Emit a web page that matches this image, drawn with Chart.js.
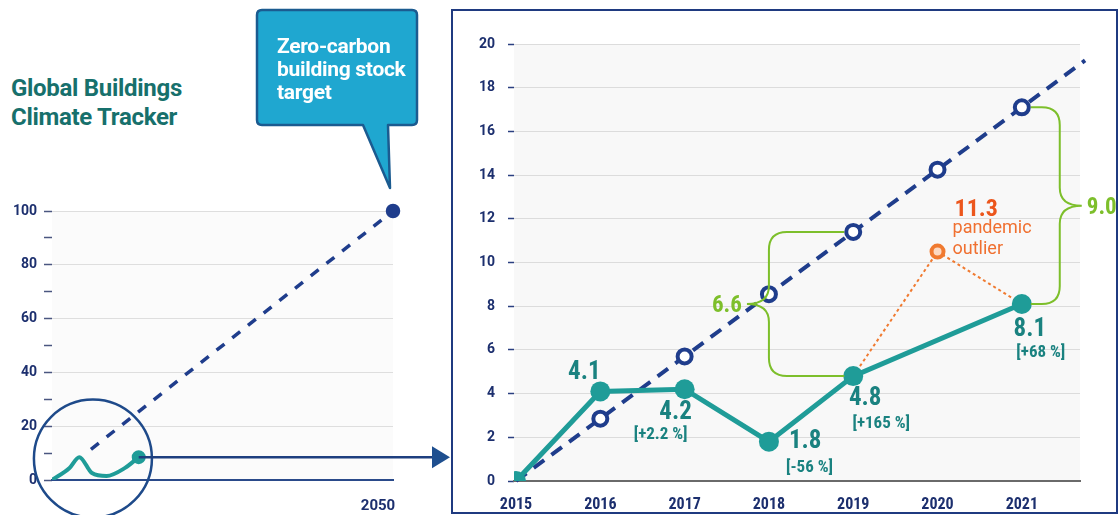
<!DOCTYPE html>
<html>
<head>
<meta charset="utf-8">
<script src="https://cdn.jsdelivr.net/npm/chart.js@4.4.0/dist/chart.umd.min.js"></script>
<style>
  html, body { margin: 0; padding: 0; background: #fff; }
  body { width: 1119px; height: 515px; position: relative; overflow: hidden; font-family: Roboto, sans-serif; }
  #left { position: absolute; left: 0; top: 0; }
  #frame { position: absolute; left: 451px; top: 9px; width: 663px; height: 501px; border: 2px solid #1f3a80; background: #fff; }
  #right { display: block; }
  #title { position: absolute; left: 11px; top: 74px; font: bold 24px/29px Roboto, sans-serif; color: #17706c; letter-spacing: -0.3px; }
  #bubble { position: absolute; left: 0; top: 0; }
  #bubbleText { position: absolute; left: 277px; top: 35px; font: bold 21px/23px Roboto, sans-serif; color: #fff; letter-spacing: -0.3px; }
</style>
</head>
<body>
<div id="title">Global Buildings<br>Climate Tracker</div>
<canvas id="left" width="450" height="515"></canvas>
<svg id="bubble" width="450" height="200">
  <path d="M262,10 H412 Q417,10 417,15 V120 Q417,125 412,125 H388 L390,188 L363,125 H262 Q257,125 257,120 V15 Q257,10 262,10 Z"
        fill="#1fa7d0" stroke="#1b5b90" stroke-width="2.5" stroke-linejoin="round"/>
</svg>
<div id="bubbleText">Zero-carbon<br>building stock<br>target</div>
<div id="frame"><canvas id="right" width="663" height="501"></canvas></div>

<script>
// zoomed chart (right)
const years = [2015, 2016, 2017, 2018, 2019, 2020, 2021];
const actual = [0, 4.1, 4.2, 1.8, 4.8, null, 8.1];
const target = [0, 2.85, 5.7, 8.55, 11.4, 14.25, 17.1];
const targetEnd = { x: 2021.75, y: 19.25 };
const outlierYears = [2019, 2020, 2021];
const outlier = [4.8, 10.5, 8.1];
const valueLabels = ['', '4.1', '4.2', '1.8', '4.8', '', '8.1'];
const changeLabels = ['', '', '[+2.2 %]', '[-56 %]', '[+165 %]', '', '[+68 %]'];
const gapYears = [2019, 2021];
const gapLabels = ['6.6', '9.0'];

// overview chart (left)
const overviewYears = [2015, 2016.8, 2017.8, 2019.1, 2020.6, 2022.5, 2023.9];
const overviewActual = [0, 4.5, 8.5, 2.6, 1.5, 4.5, 8.5];
const overviewTargetYears = [2019, 2050];
const overviewTarget = [11.4, 100];

const NARROW = "'Liberation Sans Narrow', 'Roboto Condensed', 'DejaVu Sans Condensed', sans-serif";
const NAVY = '#1c2f6e';
const TEAL = '#1f9c98';
const TEAL_TEXT = '#1a8280';
const DASH = '#1f3d8c';
const GREEN = '#7dbf2b';
const ORANGE = '#f07a30';

function txt(ctx, s, x, y, font, color, align) {
  ctx.font = font;
  ctx.fillStyle = color;
  ctx.textAlign = align || 'center';
  ctx.textBaseline = 'alphabetic';
  ctx.fillText(s, x, y);
}

function brace(ctx, xa1, y1, xa2, y2, xb, xt) {
  const ym = (y1 + y2) / 2, r = 18, s = Math.sign(xa1 - xb);
  ctx.beginPath();
  ctx.moveTo(xa1, y1);
  ctx.lineTo(xb + s * r, y1);
  ctx.quadraticCurveTo(xb, y1, xb, y1 + r);
  ctx.lineTo(xb, ym - r);
  ctx.quadraticCurveTo(xb, ym, xt, ym);
  ctx.quadraticCurveTo(xb, ym, xb, ym + r);
  ctx.lineTo(xb, y2 - r);
  ctx.quadraticCurveTo(xb, y2, xb + s * r, y2);
  ctx.lineTo(xa2, y2);
  ctx.stroke();
}

const areaBg = {
  id: 'areaBg',
  beforeDraw(chart, args, opts) {
    const { ctx, chartArea: a } = chart;
    ctx.save();
    ctx.fillStyle = opts.color;
    ctx.fillRect(a.left, a.top, a.right - a.left, a.bottom - a.top);
    ctx.restore();
  }
};

// ---------- left overview ----------
const leftDeco = {
  id: 'leftDeco',
  afterDatasetsDraw(chart) {
    const { ctx, scales: { x, y } } = chart;
    const pts = chart.getDatasetMeta(0).data;
    const end = pts[pts.length - 1];
    ctx.save();
    ctx.strokeStyle = '#1e4a8a';
    ctx.lineWidth = 2.5;
    ctx.beginPath();
    ctx.arc(x.getPixelForValue(2019.2), y.getPixelForValue(8), 59, 0, Math.PI * 2);
    ctx.stroke();
    // arrow to the zoomed chart
    ctx.strokeStyle = '#1e3f7f';
    ctx.beginPath();
    ctx.moveTo(end.x, end.y);
    ctx.lineTo(434, end.y);
    ctx.stroke();
    ctx.fillStyle = '#1e4f8f';
    ctx.beginPath();
    ctx.moveTo(432, end.y - 11);
    ctx.lineTo(450, end.y);
    ctx.lineTo(432, end.y + 11);
    ctx.closePath();
    ctx.fill();
    ctx.restore();
  }
};

new Chart(document.getElementById('left'), {
  type: 'line',
  data: {
    datasets: [{
      data: overviewYears.map((v, i) => ({ x: v, y: overviewActual[i] })),
      borderColor: TEAL,
      backgroundColor: TEAL,
      borderWidth: 4,
      cubicInterpolationMode: 'monotone',
      pointRadius: overviewYears.map((v, i) => i === overviewYears.length - 1 ? 5 : 0),
      order: 0
    }, {
      data: overviewTargetYears.map((v, i) => ({ x: v, y: overviewTarget[i] })),
      borderColor: DASH,
      backgroundColor: DASH,
      borderWidth: 3.5,
      borderDash: [10, 10],
      pointRadius: [0, 5.5],
      clip: false,
      order: 1
    }]
  },
  options: {
    responsive: false,
    animation: false,
    events: [],
    layout: { padding: { left: 0, right: 57, top: 211, bottom: 0 } },
    plugins: { legend: { display: false }, tooltip: { enabled: false }, areaBg: { color: '#fbfbfb' } },
    scales: {
      x: {
        type: 'linear', min: 2015, max: 2050,
        afterBuildTicks: s => { s.ticks = [{ value: 2050 }]; },
        afterFit: s => { s.height = 35; },
        grid: { display: false },
        border: { color: '#2a4a8a', width: 2 },
        ticks: { callback: v => String(v), color: NAVY, font: { family: 'Roboto', size: 15, weight: 'bold' }, padding: 9, labelOffset: -15 }
      },
      y: {
        min: 0, max: 100,
        afterFit: s => { s.width = 52; },
        border: { display: false },
        grid: {
          color: c => (c.tick && c.tick.value % 20 === 0 && c.tick.value > 0) ? '#dedede' : 'transparent',
          tickColor: '#4a5680', tickLength: 8, tickWidth: 1.5
        },
        ticks: { stepSize: 10, callback: v => v % 20 === 0 ? String(v) : '', color: NAVY, font: { family: 'Roboto', size: 14, weight: 'bold' }, padding: 7 }
      }
    }
  },
  plugins: [areaBg, leftDeco]
});

// ---------- right zoomed chart ----------
const rightDeco = {
  id: 'rightDeco',
  afterDatasetsDraw(chart) {
    const { ctx, scales: { x, y } } = chart;
    const act = chart.getDatasetMeta(0).data;
    const tgt = chart.getDatasetMeta(1).data;
    const out = chart.getDatasetMeta(2).data;
    ctx.save();

    // gap braces
    ctx.strokeStyle = GREEN;
    ctx.lineWidth = 2;
    const i19 = years.indexOf(gapYears[0]), i21 = years.indexOf(gapYears[1]);
    const xb1 = x.getPixelForValue(2018), xt1 = xb1 - 22;
    brace(ctx, tgt[i19].x - 9, tgt[i19].y, act[i19].x - 9, act[i19].y, xb1, xt1);
    const xb2 = x.getPixelForValue(2021.45), xt2 = xb2 + 22;
    brace(ctx, tgt[i21].x + 9, tgt[i21].y, act[i21].x + 9, act[i21].y, xb2, xt2);
    const ym1 = (tgt[i19].y + act[i19].y) / 2, ym2 = (tgt[i21].y + act[i21].y) / 2;
    txt(ctx, gapLabels[0], xt1 - 5, ym1 + 8, `bold 23px ${NARROW}`, GREEN, 'right');
    txt(ctx, gapLabels[1], xt2 + 5, ym2 + 8, `bold 23px ${NARROW}`, GREEN, 'left');

    // value and change labels
    const vOff = [null, [-16, -12, 'center'], [-9, 30, 'center'], [20, 6, 'left'], [12, 29, 'center'], null, [8, 32, 'center']];
    const cOff = [null, null, [-24, 50, 'center'], [17, 30, 'left'], [28, 52, 'center'], null, [19, 53, 'center']];
    years.forEach((yr, i) => {
      const p = act[i];
      if (!p || actual[i] === null) return;
      if (vOff[i] && valueLabels[i]) txt(ctx, valueLabels[i], p.x + vOff[i][0], p.y + vOff[i][1], `bold 25px ${NARROW}`, TEAL_TEXT, vOff[i][2]);
      if (cOff[i] && changeLabels[i]) txt(ctx, changeLabels[i], p.x + cOff[i][0], p.y + cOff[i][1], `bold 17px ${NARROW}`, TEAL_TEXT, cOff[i][2]);
    });

    // pandemic outlier note
    const o = out[1];
    txt(ctx, '11.3', o.x + 17, o.y - 36, `bold 24px ${NARROW}`, '#ec561c', 'left');
    txt(ctx, 'pandemic', o.x + 15, o.y - 19, '18px Roboto, sans-serif', '#f07030', 'left');
    txt(ctx, 'outlier', o.x + 15, o.y + 2, '18px Roboto, sans-serif', '#f07030', 'left');
    ctx.restore();
  }
};

new Chart(document.getElementById('right'), {
  type: 'line',
  data: {
    datasets: [{
      data: years.map((v, i) => ({ x: v, y: actual[i] })),
      borderColor: TEAL,
      backgroundColor: TEAL,
      borderWidth: 5,
      spanGaps: true,
      pointRadius: 10,
      pointBorderWidth: 0,
      order: 0
    }, {
      data: years.map((v, i) => ({ x: v, y: target[i] })).concat([targetEnd]),
      borderColor: DASH,
      borderWidth: 4,
      borderDash: [13, 9],
      pointRadius: years.map((v, i) => i === 0 ? 0 : 7).concat([0]),
      pointBackgroundColor: '#fff',
      pointBorderColor: DASH,
      pointBorderWidth: 4,
      clip: false,
      order: 1
    }, {
      data: outlierYears.map((v, i) => ({ x: v, y: outlier[i] })),
      borderColor: ORANGE,
      borderWidth: 2,
      borderDash: [3, 3],
      pointRadius: [0, 6, 0],
      pointBackgroundColor: '#fcd9c2',
      pointBorderColor: ORANGE,
      pointBorderWidth: 4,
      order: 2
    }]
  },
  options: {
    responsive: false,
    animation: false,
    events: [],
    layout: { padding: { left: 0, right: 36, top: 33, bottom: 0 } },
    plugins: { legend: { display: false }, tooltip: { enabled: false }, areaBg: { color: '#f8f8f8' } },
    scales: {
      x: {
        type: 'linear', min: 2014.976, max: 2021.69,
        afterBuildTicks: s => { s.ticks = years.map(v => ({ value: v })); },
        afterFit: s => { s.height = 31; },
        grid: { display: false },
        border: { color: '#6a6a6a', width: 2 },
        ticks: { callback: v => String(v), color: NAVY, font: { family: NARROW, size: 16, weight: 'bold' }, padding: 6 }
      },
      y: {
        min: 0, max: 20,
        afterFit: s => { s.width = 61; },
        border: { display: false },
        grid: {
          color: c => (c.tick && c.tick.value > 0) ? '#dcdcdc' : 'transparent',
          tickColor: '#2a3f80', tickLength: 6, tickWidth: 1.5
        },
        ticks: { stepSize: 2, color: NAVY, font: { family: 'Roboto', size: 14, weight: 'bold' }, padding: 13 }
      }
    }
  },
  plugins: [areaBg, rightDeco]
});
</script>
</body>
</html>
